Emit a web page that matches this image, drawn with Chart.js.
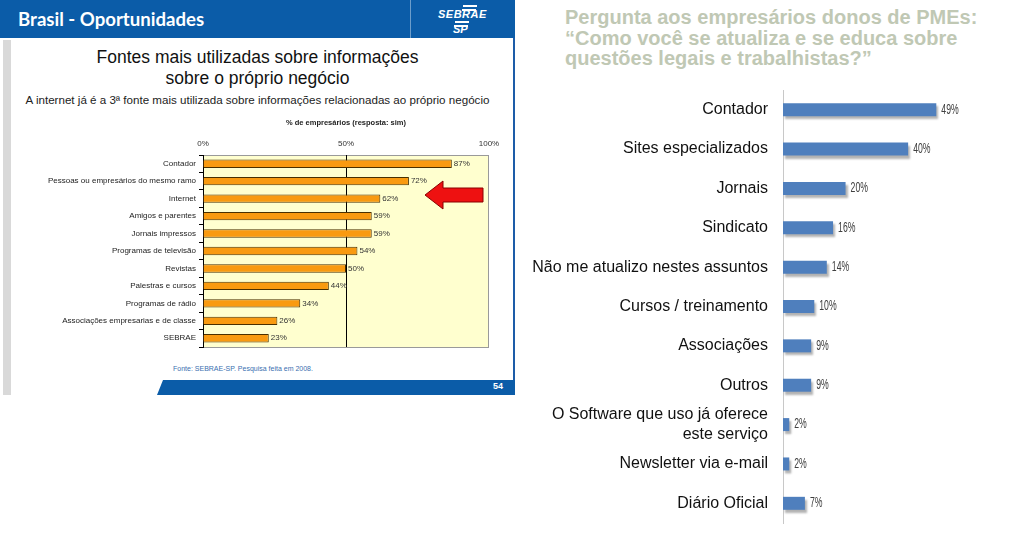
<!DOCTYPE html>
<html>
<head>
<meta charset="utf-8">
<script src="https://cdn.jsdelivr.net/npm/chart.js@4.4.0/dist/chart.umd.min.js"></script>
<style>
  body { margin: 0; width: 1023px; height: 547px; overflow: hidden; background: #fff; font-family: "Liberation Sans", Arial, sans-serif; position: relative; }
  .abs { position: absolute; }
  #hdr { left: 0; top: 0; width: 515px; height: 38px; background: #0b5ca8; }
  #hdrTxt { left: 18px; top: 8px; color: #fff; font: bold 18.6px Lato, "Open Sans", sans-serif; }
  #sep { left: 410px; top: 0; width: 1px; height: 38px; background: rgba(255,255,255,0.4); }
  #logo1 { left: 438px; top: 8px; color: #fff; font: italic bold 11px "Liberation Sans", Arial; letter-spacing: 0.5px; }
  #logo2 { left: 453px; top: 23px; color: #fff; font: italic bold 11px "Liberation Sans", Arial; }
  .lbar { background: #fff; height: 2px; }
  #strip { left: 3px; top: 40px; width: 8px; height: 355px; background: #d9d9d9; }
  #rborder { left: 513px; top: 38px; width: 2px; height: 344px; background: #1d5ca8; }
  #foot { left: 157px; top: 380px; width: 358px; height: 15px; background: #0b5ca8; clip-path: polygon(6px 0, 100% 0, 100% 100%, 0 100%); }
  #pg { left: 493px; top: 381px; color: #fff; font: bold 9px "Liberation Sans", Arial; }
  #fonte { left: 173px; top: 365px; color: #3a6fb0; font: 7px "Liberation Sans", Arial; }
  #t1 { left: 0; top: 47px; width: 515px; text-align: center; font: 17.5px "Liberation Sans", Arial; color: #111; line-height: 21px; }
  #sub { left: 0; top: 93px; width: 515px; text-align: center; font: 11.6px "Liberation Sans", Arial; color: #222; }
  #rt { left: 565px; top: 7px; font: bold 20px "Liberation Sans", Arial; color: #c0c8b4; line-height: 20.5px; }
  #c1 { left: 0; top: 110px; }
  #c2 { left: 520px; top: 85px; }
</style>
</head>
<body>
<div class="abs" id="hdr"></div>
<div class="abs" id="hdrTxt">Brasil - Oportunidades</div>
<div class="abs" id="sep"></div>
<div class="abs lbar" style="left:463px;top:5px;width:14px;"></div>
<div class="abs lbar" style="left:462px;top:9px;width:14px;"></div>
<div class="abs" id="logo1">SEBRAE</div>
<div class="abs lbar" style="left:455px;top:21px;width:14px;"></div>
<div class="abs lbar" style="left:454px;top:25px;width:14px;"></div>
<div class="abs" id="logo2">SP</div>
<div class="abs" id="strip"></div>
<div class="abs" id="rborder"></div>
<div class="abs" id="t1">Fontes mais utilizadas sobre informações<br>sobre o próprio negócio</div>
<div class="abs" id="sub">A internet já é a 3ª fonte mais utilizada sobre informações relacionadas ao próprio negócio</div>
<div class="abs" id="fonte">Fonte: SEBRAE-SP. Pesquisa feita em 2008.</div>
<div class="abs" id="foot"></div>
<div class="abs" id="pg">54</div>
<div class="abs" id="rt">Pergunta aos empresários donos de PMEs:<br>“Como você se atualiza e se educa sobre<br>questões legais e trabalhistas?”</div>

<canvas class="abs" id="c1" width="515" height="260" style="width:515px;height:260px"></canvas>
<canvas class="abs" id="c2" width="503" height="462" style="width:503px;height:462px"></canvas>

<svg class="abs" style="left:0;top:0" width="520" height="400">
  <polygon points="425,195 443,181 443,188 483,188 483,202 443,202 443,209" fill="#ee1111" stroke="#8a0000" stroke-width="1"/>
</svg>

<script>
// left chart data
var fontesLabels = ['Contador', 'Pessoas ou empresários do mesmo ramo', 'Internet', 'Amigos e parentes',
  'Jornais impressos', 'Programas de televisão', 'Revistas', 'Palestras e cursos',
  'Programas de rádio', 'Associações empresarias e de classe', 'SEBRAE'];
var fontesValues = [87, 72, 62, 59, 59, 54, 50, 44, 34, 26, 23];
var fontesTicks = [0, 50, 100];

// right chart data
var atualizaLabels = ['Contador', 'Sites especializados', 'Jornais', 'Sindicato',
  'Não me atualizo nestes assuntos', 'Cursos / treinamento', 'Associações', 'Outros',
  ['O Software que uso já oferece', 'este serviço'], 'Newsletter via e-mail', 'Diário Oficial'];
var atualizaValues = [49, 40, 20, 16, 14, 10, 9, 9, 2, 2, 7];

// fundo amarelo + borda da area do grafico
var plotBg = {
  id: 'plotBg',
  beforeDraw: function(chart) {
    var a = chart.chartArea, c = chart.ctx;
    c.save();
    c.fillStyle = '#ffffcf';
    c.fillRect(a.left, a.top, a.right - a.left, a.bottom - a.top);
    c.strokeStyle = '#9a9a9a';
    c.lineWidth = 1;
    c.strokeRect(a.left + 0.5, a.top + 0.5, a.right - a.left - 1, a.bottom - a.top);
    c.restore();
  }
};

// rotulos de valor no fim das barras (sx = compressao horizontal)
function valueLabels(id, font, color, gap, sx) {
  return {
    id: id,
    afterDatasetsDraw: function(chart) {
      var c = chart.ctx;
      var meta = chart.getDatasetMeta(0);
      c.save();
      c.font = font;
      c.fillStyle = color;
      c.textBaseline = 'middle';
      meta.data.forEach(function(bar, i) {
        c.save();
        c.translate(bar.x + gap, bar.y);
        c.scale(sx, 1);
        c.fillText(chart.data.datasets[0].data[i] + '%', 0, 0);
        c.restore();
      });
      c.restore();
    }
  };
}

var barShadow = {
  id: 'barShadow',
  beforeDatasetsDraw: function(chart) {
    var c = chart.ctx;
    c.save();
    c.shadowColor = 'rgba(0,0,0,0.3)';
    c.shadowOffsetX = 2;
    c.shadowOffsetY = 3;
    c.shadowBlur = 2;
  },
  afterDatasetsDraw: function(chart) {
    chart.ctx.restore();
  }
};

// chart1
var ctx = document.getElementById('c1').getContext('2d');
var chart1 = new Chart(ctx, {
  type: 'bar',
  data: {
    labels: fontesLabels,
    datasets: [{
      data: fontesValues,
      backgroundColor: '#f99a10',
      borderColor: '#4a3000',
      borderWidth: 1,
      barPercentage: 0.48,
      categoryPercentage: 1
    }]
  },
  options: {
    indexAxis: 'y',
    responsive: false,
    animation: false,
    layout: { padding: { top: 6, right: 26, bottom: 23, left: 0 } },
    plugins: { legend: { display: false }, tooltip: { enabled: false } },
    scales: {
      x: {
        position: 'top',
        min: 0, max: 100,
        afterBuildTicks: function(scale) {
          scale.ticks = fontesTicks.map(function(v) { return { value: v }; });
        },
        afterFit: function(scale) { scale.height = 39; },
        ticks: {
          font: { size: 8, family: 'Liberation Sans' }, color: '#333', padding: 6,
          callback: function(v) { return v + '%'; }
        },
        title: {
          display: true, text: '% de empresários (resposta: sim)',
          font: { size: 7.5, weight: 'bold', family: 'Liberation Sans' }, color: '#222',
          padding: { top: 2, bottom: 4 }
        },
        grid: {
          drawTicks: false,
          color: function(c) { return c.tick && c.tick.value === 50 ? '#000' : 'rgba(0,0,0,0)'; }
        },
        border: { display: false }
      },
      y: {
        afterFit: function(scale) { scale.width = 203; },
        ticks: { font: { size: 8, family: 'Liberation Sans' }, color: '#222', padding: 3, autoSkip: false },
        grid: { drawOnChartArea: false, color: '#000', tickLength: 4 },
        border: { color: '#000' }
      }
    }
  },
  plugins: [plotBg, valueLabels('v1', '8px "Liberation Sans", Arial', '#333', 2, 1)]
});

// chart2
var ctx2 = document.getElementById('c2').getContext('2d');
var chart2 = new Chart(ctx2, {
  type: 'bar',
  data: {
    labels: atualizaLabels,
    datasets: [{
      data: atualizaValues,
      backgroundColor: '#4f7fbd',
      barPercentage: 0.33,
      categoryPercentage: 1
    }]
  },
  options: {
    indexAxis: 'y',
    responsive: false,
    animation: false,
    layout: { padding: { top: 5, right: 21, bottom: 24, left: 0 } },
    plugins: { legend: { display: false }, tooltip: { enabled: false } },
    scales: {
      x: { display: false, min: 0, max: 70 },
      y: {
        afterFit: function(scale) {
          scale.width = 263;
          scale.paddingTop = 0;
          scale.paddingBottom = 0;
        },
        ticks: { font: { size: 16, family: 'Liberation Sans' }, color: '#111', padding: 15, autoSkip: false },
        grid: { drawOnChartArea: false, drawTicks: false, color: 'rgba(0,0,0,0)' },
        border: { color: '#c8c8c8' }
      }
    }
  },
  plugins: [barShadow, valueLabels('v2', '14px "Liberation Sans", Arial', '#404040', 5, 0.62)]
});
</script>
</body>
</html>
